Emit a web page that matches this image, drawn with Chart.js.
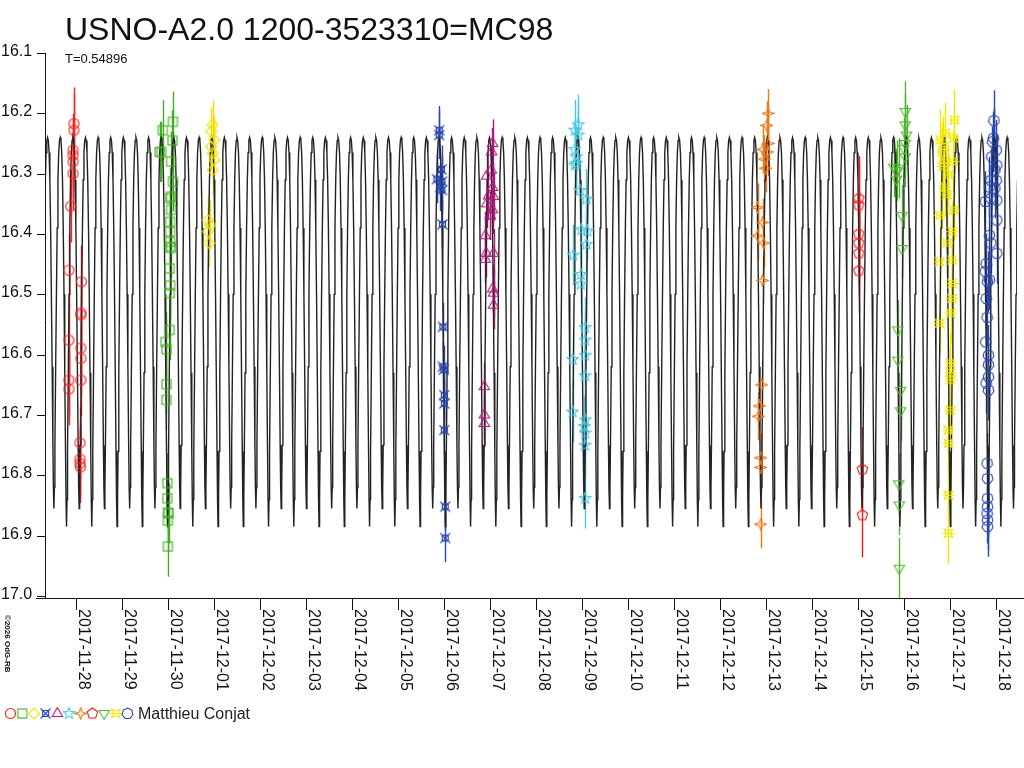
<!DOCTYPE html>
<html>
<head>
<meta charset="utf-8">
<script src="https://cdn.jsdelivr.net/npm/chart.js@4"></script>
<style>
  html, body { margin: 0; padding: 0; background: #fff; }
  canvas { display: block; }
</style>
</head>
<body>
<canvas id="chart" width="1024" height="768"></canvas>
<script>
/* Light curve of USNO-A2.0 1200-3523310 with observer points. x = days since 2017-11-28 */

const TITLE = "USNO-A2.0 1200-3523310=MC98";
const SUBTITLE = "T=0.54896";
const OBSERVER = "Matthieu Conjat";
const DATE_LABELS = ["2017-11-28","2017-11-29","2017-11-30","2017-12-01","2017-12-02","2017-12-03","2017-12-04",
  "2017-12-05","2017-12-06","2017-12-07","2017-12-08","2017-12-09","2017-12-10","2017-12-11","2017-12-12",
  "2017-12-13","2017-12-14","2017-12-15","2017-12-16","2017-12-17","2017-12-18"];
const Y_TICKS = [16.1,16.2,16.3,16.4,16.5,16.6,16.7,16.8,16.9,17.0];

// model curve: one period T, deep minimum at EPOCH
const PERIOD = 0.54896;
const EPOCH = -0.202;
const CYCLE_PHASE = [0,0.02,0.04,0.07,0.10,0.13,0.16,0.19,0.22,0.25,0.28,0.31,0.34,0.37,0.40,0.43,0.46,0.48,
  0.50,0.52,0.54,0.57,0.60,0.63,0.66,0.69,0.72,0.75,0.78,0.81,0.84,0.87,0.90,0.93,0.96,0.98];
const CYCLE_MAG = [16.885,16.84,16.76,16.63,16.50,16.39,16.31,16.265,16.245,16.24,16.245,16.265,16.31,16.39,16.50,16.62,16.75,16.82,
  16.855,16.82,16.75,16.62,16.50,16.39,16.31,16.265,16.245,16.24,16.245,16.265,16.31,16.39,16.50,16.63,16.76,16.84];

// observations
const s1t = [-0.04,-0.04,-0.06,-0.06,-0.06,-0.06,-0.11,-0.15,0.12,0.11,0.11,-0.15,0.11,0.11,-0.15,0.11,-0.15,0.09,0.09,0.09,0.10];
const s1m = [16.217,16.228,16.261,16.269,16.28,16.30,16.354,16.46,16.479,16.531,16.534,16.576,16.589,16.606,16.642,16.642,16.657,16.746,16.773,16.78,16.786];
const s2t = [1.89,2.11,1.86,1.82,2.10,2.07,2.11,2.07,2.05,2.07,2.05,2.05,2.05,2.05,2.07,2.04,2.05,2.04,2.04,1.95,1.97,1.97,1.97,1.99,1.99,2.00,2.02,2.00,2.00];
const s2m = [16.228,16.214,16.264,16.264,16.245,16.28,16.313,16.338,16.341,16.36,16.38,16.396,16.413,16.421,16.423,16.457,16.485,16.498,16.559,16.579,16.591,16.649,16.675,16.813,16.838,16.862,16.863,16.875,16.918];
const s3t = [2.975,2.94,3.01,2.94,2.975,3.01,2.975,2.87,2.92,2.87,2.90];
const s3m = [16.219,16.23,16.244,16.255,16.266,16.277,16.294,16.377,16.385,16.396,16.415];
const s4t = [7.90,7.90,7.95,7.85,7.96,7.92,7.96,7.97,7.98,7.98,8.00,8.01,8.01,8.01,8.03,8.03];
const s4m = [16.228,16.236,16.293,16.309,16.313,16.322,16.327,16.384,16.554,16.62,16.625,16.667,16.681,16.725,16.852,16.904];
const s5t = [9.06,9.04,9.03,8.93,9.06,8.97,9.08,8.93,9.06,9.01,8.90,8.92,9.08,8.90,9.06,9.08,9.08,8.88,8.88,8.88];
const s5m = [16.25,16.264,16.294,16.304,16.323,16.337,16.338,16.35,16.36,16.37,16.403,16.432,16.432,16.442,16.491,16.498,16.518,16.653,16.70,16.714];
const s6t = [10.92,10.85,10.92,10.85,10.88,10.88,10.85,10.96,11.10,10.99,11.12,11.10,10.81,10.98,10.98,11.07,11.07,11.07,10.80,11.07,10.80,11.07,11.05,11.07,11.07,11.07];
const s6m = [16.219,16.228,16.236,16.26,16.272,16.283,16.286,16.328,16.342,16.393,16.395,16.417,16.435,16.467,16.483,16.555,16.576,16.601,16.608,16.635,16.695,16.708,16.719,16.73,16.75,16.838];
const s7t = [15.05,15.02,15.05,14.93,15.04,14.97,15.00,14.82,14.93,14.82,14.95,14.93,14.91,14.86,14.84,14.89,14.89,14.89];
const s7m = [16.20,16.22,16.25,16.26,16.264,16.276,16.291,16.356,16.381,16.403,16.415,16.477,16.65,16.685,16.702,16.771,16.787,16.881];
const s8t = [17.02,17.02,17.02,17.02,17.02,17.02,17.10,17.10];
const s8m = [16.341,16.352,16.40,16.415,16.432,16.461,16.79,16.866];
const s9t = [18.03,18.03,18.06,18.03,18.00,18.03,17.78,17.89,17.85,17.84,17.96,17.96,17.87,17.87,17.93,17.93,17.89,17.90,17.90];
const s9m = [16.197,16.219,16.236,16.25,16.258,16.272,16.289,16.291,16.295,16.309,16.369,16.424,16.559,16.609,16.659,16.693,16.814,16.849,16.954];
const s10t = [19.10,18.90,19.08,18.79,18.86,18.83,18.90,19.07,18.85,18.97,18.90,18.94,19.08,18.78,19.05,18.94,18.78,19.05,19.05,19.05,18.78,19.02,19.01,19.01,19.01,19.01,18.97,18.97,18.97,18.97];
const s10m = [16.211,16.233,16.241,16.244,16.255,16.264,16.277,16.28,16.288,16.302,16.322,16.335,16.36,16.369,16.396,16.415,16.446,16.443,16.482,16.507,16.548,16.531,16.614,16.63,16.642,16.692,16.725,16.747,16.833,16.896];
const s11t = [19.96,19.95,19.93,20.01,19.91,20.02,19.98,19.89,20.01,19.86,19.98,19.77,20.02,19.89,20.02,19.86,19.89,20.02,19.79,19.77,19.86,19.82,19.79,19.81,19.78,19.84,19.84,19.84,19.79,19.84,19.81,19.82,19.82,19.82,19.81,19.82,19.82];
const s11m = [16.212,16.241,16.247,16.261,16.272,16.286,16.294,16.311,16.311,16.322,16.324,16.346,16.344,16.341,16.377,16.402,16.415,16.432,16.449,16.462,16.476,16.479,16.507,16.538,16.579,16.601,16.617,16.637,16.647,16.659,16.78,16.805,16.838,16.852,16.863,16.874,16.885];

const SERIES_T = [s1t,s2t,s3t,s4t,s5t,s6t,s7t,s8t,s9t,s10t,s11t];
const SERIES_M = [s1m,s2m,s3m,s4m,s5m,s6m,s7m,s8m,s9m,s10m,s11m];
const SERIES_ERR = [0.06,0.05,0.04,0.04,0.04,0.05,0.04,0.07,0.05,0.05,0.05];
const SERIES_COLOR = ["#ff2020","#40b020","#f0e000","#2848b0","#b01878","#48c8e0","#f07818","#f01818","#50b830","#f0e800","#2848b0"];
const SERIES_SHAPE = ["circle","square","diamond","crossbox","triangle","star5","star4","pentagon","invtri","crossstar","heptagon"];

function makeIcon(shape, color) {
  const c = document.createElement("canvas");
  c.width = 13; c.height = 13;
  const g = c.getContext("2d");
  g.strokeStyle = color; g.lineWidth = 1.1;
  const cx = 6.5, cy = 6.5;
  const poly = (n, rot, rr) => {
    g.beginPath();
    for (let i = 0; i < n; i++) {
      const a = rot + i * 2 * Math.PI / n;
      const px = cx + rr * Math.cos(a), py = cy + rr * Math.sin(a);
      i ? g.lineTo(px, py) : g.moveTo(px, py);
    }
    g.closePath(); g.stroke();
  };
  const starPoly = (n, rot, ro, ri) => {
    g.beginPath();
    for (let i = 0; i < 2 * n; i++) {
      const a = rot + i * Math.PI / n, rr = i % 2 ? ri : ro;
      const px = cx + rr * Math.cos(a), py = cy + rr * Math.sin(a);
      i ? g.lineTo(px, py) : g.moveTo(px, py);
    }
    g.closePath(); g.stroke();
  };
  switch (shape) {
    case "circle": g.beginPath(); g.arc(cx, cy, 5, 0, 2 * Math.PI); g.stroke(); break;
    case "square": g.strokeRect(2, 2, 9, 9); break;
    case "diamond": poly(4, 0, 5.5); break;
    case "crossbox":
      g.strokeRect(3.5, 3.5, 6, 6);
      g.beginPath(); g.moveTo(1.5, 1.5); g.lineTo(11.5, 11.5); g.moveTo(11.5, 1.5); g.lineTo(1.5, 11.5); g.stroke(); break;
    case "triangle": poly(3, -Math.PI / 2, 6); break;
    case "star5": starPoly(5, -Math.PI / 2, 6, 2.6); break;
    case "star4": starPoly(4, 0, 6, 2); break;
    case "pentagon": poly(5, -Math.PI / 2, 5.5); break;
    case "invtri": poly(3, Math.PI / 2, 6); break;
    case "crossstar":
      starPoly(4, Math.PI / 4, 6, 2.3);
      g.beginPath(); g.moveTo(0.5, 6.5); g.lineTo(12.5, 6.5); g.stroke(); break;
    case "heptagon": poly(7, -Math.PI / 2, 5.5); break;
  }
  return c;
}

const icons = SERIES_SHAPE.map((s, i) => makeIcon(s, SERIES_COLOR[i]));

// tile the tabulated cycle across the plotted range
const curve = [];
for (let k = -2; k < 40; k++) {
  for (let j = 0; j < CYCLE_PHASE.length; j++) {
    const t = EPOCH + (k + CYCLE_PHASE[j]) * PERIOD;
    if (t >= -0.7 && t <= 20.5) curve.push({ x: t, y: CYCLE_MAG[j] });
  }
}

const datasets = [{
  data: curve, borderColor: "#222", borderWidth: 1.4, pointRadius: 0, tension: 0, showLine: true, order: 2,
}];
SERIES_T.forEach((ts, i) => {
  datasets.push({
    data: ts.map((t, j) => ({ x: t, y: SERIES_M[i][j] })),
    pointStyle: icons[i], pointRadius: 6, showLine: false, order: 1,
  });
});

const FONT = "'Liberation Sans', Arial, sans-serif";

const axisPlugin = {
  id: "axes",
  beforeDatasetsDraw(chart) {
    const { ctx, scales: { x, y } } = chart;
    ctx.save();
    ctx.lineWidth = 1.4;
    datasets.forEach((ds, i) => {
      if (i === 0) return;
      ctx.strokeStyle = SERIES_COLOR[i - 1];
      const e = SERIES_ERR[i - 1];
      ds.data.forEach((p) => {
        const px = Math.round(x.getPixelForValue(p.x)) + 0.5;
        ctx.beginPath();
        ctx.moveTo(px, y.getPixelForValue(p.y - e));
        ctx.lineTo(px, y.getPixelForValue(p.y + e));
        ctx.stroke();
      });
    });
    ctx.restore();
  },
  afterDraw(chart) {
    const { ctx, scales: { x, y }, chartArea: a } = chart;
    ctx.save();
    ctx.strokeStyle = "#111"; ctx.fillStyle = "#111"; ctx.lineWidth = 1;
    // axis lines
    ctx.beginPath();
    ctx.moveTo(36, a.bottom + 2.5); ctx.lineTo(1024, a.bottom + 2.5);
    ctx.moveTo(45.5, a.top); ctx.lineTo(45.5, a.bottom + 2);
    ctx.stroke();
    // y ticks
    ctx.font = "16px " + FONT; ctx.textAlign = "left"; ctx.textBaseline = "middle";
    Y_TICKS.forEach((v) => {
      const py = Math.round(y.getPixelForValue(v)) + 0.5;
      ctx.beginPath(); ctx.moveTo(37, py); ctx.lineTo(45, py); ctx.stroke();
      ctx.fillText(v.toFixed(1), 1, py - 2);
    });
    // date ticks, text rotated clockwise
    ctx.font = "16px " + FONT;
    DATE_LABELS.forEach((lab, i) => {
      const px = Math.round(x.getPixelForValue(i)) + 0.5;
      ctx.beginPath(); ctx.moveTo(px, a.bottom + 2); ctx.lineTo(px, a.bottom + 14); ctx.stroke();
      ctx.save();
      ctx.translate(px, a.bottom + 13);
      ctx.rotate(Math.PI / 2);
      ctx.textAlign = "left"; ctx.textBaseline = "bottom";
      ctx.fillText(lab, 0, 1);
      ctx.restore();
    });
    // copyright
    ctx.save();
    ctx.translate(3, 615); ctx.rotate(Math.PI / 2);
    ctx.font = "bold 8px " + FONT; ctx.textAlign = "left"; ctx.textBaseline = "bottom";
    ctx.fillText("\u00a92026 OdG-RB", 0, 0);
    ctx.restore();
    // title
    ctx.textAlign = "left"; ctx.textBaseline = "alphabetic";
    ctx.font = "32px " + FONT; ctx.fillText(TITLE, 65, 40);
    ctx.font = "13px " + FONT; ctx.fillText(SUBTITLE, 65, 63);
    // legend
    icons.forEach((ic, i) => ctx.drawImage(ic, 4 + i * 11.7, 707));
    ctx.font = "16px " + FONT; ctx.fillStyle = "#222";
    ctx.fillText(OBSERVER, 138, 719);
    ctx.restore();
  },
};

new Chart(document.getElementById("chart"), {
  type: "scatter",
  data: { datasets },
  options: {
    responsive: false, animation: false,
    layout: { padding: { left: 45, right: 4, top: 53, bottom: 172 } },
    plugins: { legend: { display: false }, tooltip: { enabled: false } },
    scales: {
      x: { type: "linear", display: false, min: -0.67, max: 20.46 },
      y: { type: "linear", display: false, reverse: true, min: 16.1, max: 17.0 },
    },
  },
  plugins: [axisPlugin],
});
</script>
</body>
</html>
